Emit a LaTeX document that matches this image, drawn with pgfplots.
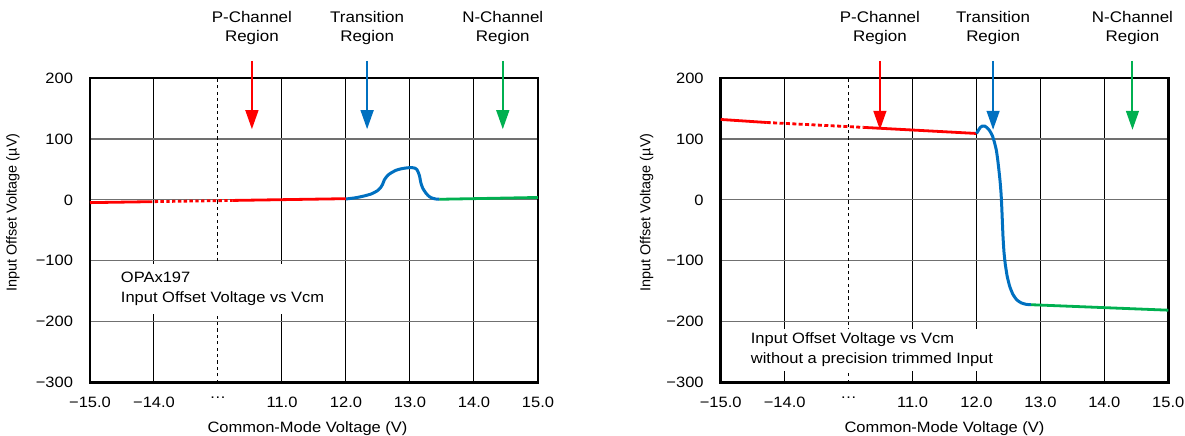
\documentclass[border=0pt]{standalone}
\usepackage{fontspec}
\setmainfont{Liberation Sans}[FakeStretch=1.1]
\newfontfamily\plainfont{Liberation Sans}
\usepackage{pgfplots}
\pgfplotsset{compat=1.18}
\usetikzlibrary{arrows.meta}
\definecolor{tired}{RGB}{255,0,0}
\definecolor{tiblue}{RGB}{0,112,192}
\definecolor{tigreen}{RGB}{0,176,80}
\definecolor{hgrid}{RGB}{112,112,112}

\pgfplotsset{
  panel/.style={
    scale only axis, width=224pt, height=152.35pt,
    xmin=0, xmax=7, ymin=-300, ymax=200,
    clip=false,
    xtick={0,1,3,4,5,6,7},
    xticklabels={−15.0,−14.0,11.0,12.0,13.0,14.0,15.0},
    extra x ticks={2}, extra x tick labels={…},
    extra x tick style={xmajorgrids, major grid style={black, line width=0.5pt, dash pattern=on 1.6pt off 1.6pt}},
    ytick={-300,-200,-100,0,100,200},
    yticklabels={−300,−200,−100,0,100,200},
    major tick length=0pt,
    xmajorgrids, ymajorgrids,
    x grid style={black, line width=0.5pt},
    y grid style={hgrid, line width=0.6pt},
    axis line style={black, line width=1.3pt},
    tick label style={font=\fontsize{7.5}{8.5}\selectfont},
    xticklabel style={yshift=-3.5pt},
    yticklabel style={xshift=-5pt},
    xlabel={Common-Mode Voltage (V)},
    ylabel={Input Offset Voltage (µV)},
    xlabel style={font=\fontsize{7.5}{8.5}\selectfont, anchor=center},
    ylabel style={font=\plainfont\fontsize{7.2}{8.5}\selectfont, anchor=center},
  },
  redl/.style={tired, line width=1.4pt},
  bluel/.style={tiblue, line width=1.5pt},
  greenl/.style={tigreen, line width=1.4pt},
}
\tikzset{
  arr/.style={line width=1pt, -{Triangle[width=6.4pt,length=9.5pt]}},
  ann/.style={align=center, font=\fontsize{7.7}{9.7}\selectfont},
  box/.style={align=left, fill=white, font=\fontsize{7.5}{10}\selectfont, anchor=west},
}

\begin{document}
\begin{tikzpicture}
\path[use as bounding box] (0,0) rectangle (592.5pt,217.5pt);

% ---------------- Left panel ----------------
\begin{axis}[panel, at={(45pt,26.15pt)}, anchor=south west,
  xlabel style={at={(axis description cs:0.4855,-0.151)}},
  ylabel style={at={(axis description cs:-0.1719,0.559)}}]
\addplot[redl] coordinates {(0,-4.5) (0.92,-3.0)};
\addplot[redl, dash pattern=on 1.7pt off 1.2pt] coordinates {(0.92,-3.0) (2.23,-0.9)};
\addplot[redl] coordinates {(2.23,-0.9) (4,2)};
\addplot[bluel, smooth, tension=0.4] coordinates {
(4.00,1.5) (4.15,3.5) (4.29,6.6) (4.40,10) (4.49,15) (4.54,20) (4.57,25)
(4.60,33) (4.65,40) (4.70,44) (4.78,48.5) (4.86,51) (4.95,52.5) (5.02,53)
(5.08,52) (5.11,49.5) (5.13,45) (5.15,39) (5.17,28) (5.20,19) (5.25,11)
(5.30,5.5) (5.35,2.8) (5.40,1.5) (5.46,1)};
\addplot[greenl] coordinates {(5.46,1) (7,4)};
\draw[arr, tired] (axis cs:2.53,228) -- (axis cs:2.53,116);
\draw[arr, tiblue] (axis cs:4.33,228) -- (axis cs:4.33,116);
\draw[arr, tigreen] (axis cs:6.45,228) -- (axis cs:6.45,116);
\node[ann] at (axis cs:2.53,282) {P-Channel\\Region};
\node[ann] at (axis cs:4.33,282) {Transition\\Region};
\node[ann] at (axis cs:6.45,282) {N-Channel\\Region};
\node[box, inner xsep=3pt, inner ysep=4pt, xshift=-3pt] at (axis cs:0.477,-146.5) {OPAx197\\Input Offset Voltage vs Vcm};
\end{axis}

% ---------------- Right panel ----------------
\begin{axis}[panel, width=223.8pt, at={(360.35pt,26.15pt)}, anchor=south west,
  xlabel style={at={(axis description cs:0.5,-0.151)}},
  ylabel style={at={(axis description cs:-0.1653,0.559)}}]
\addplot[redl] coordinates {(0,132) (0.72,127)};
\addplot[redl, dash pattern=on 2pt off 1.2pt] coordinates {(0.72,127) (2.23,119)};
\addplot[redl] coordinates {(2.23,119) (4,109)};
\addplot[bluel, smooth, tension=0.3] coordinates {
(4.00,109) (4.03,114) (4.06,119) (4.09,121) (4.13,121) (4.17,118) (4.21,113)
(4.25,105) (4.28,95) (4.31,82) (4.33,68) (4.35,50) (4.37,30) (4.385,10)
(4.395,-10) (4.405,-35) (4.415,-60) (4.43,-85) (4.45,-105) (4.48,-125)
(4.52,-142) (4.57,-155) (4.63,-164) (4.70,-169) (4.78,-171.5) (4.85,-172)};
\addplot[greenl] coordinates {(4.85,-172) (7,-181)};
\draw[arr, tired] (axis cs:2.49,228) -- (axis cs:2.49,115);
\draw[arr, tiblue] (axis cs:4.26,228) -- (axis cs:4.26,115);
\draw[arr, tigreen] (axis cs:6.44,228) -- (axis cs:6.44,115);
\node[ann] at (axis cs:2.49,282) {P-Channel\\Region};
\node[ann] at (axis cs:4.26,282) {Transition\\Region};
\node[ann] at (axis cs:6.44,282) {N-Channel\\Region};
\node[box, inner xsep=3pt, inner ysep=2pt, xshift=-3pt] at (axis cs:0.466,-246.5) {Input Offset Voltage vs Vcm\\without a precision trimmed Input};
\end{axis}
\end{tikzpicture}
\end{document}
